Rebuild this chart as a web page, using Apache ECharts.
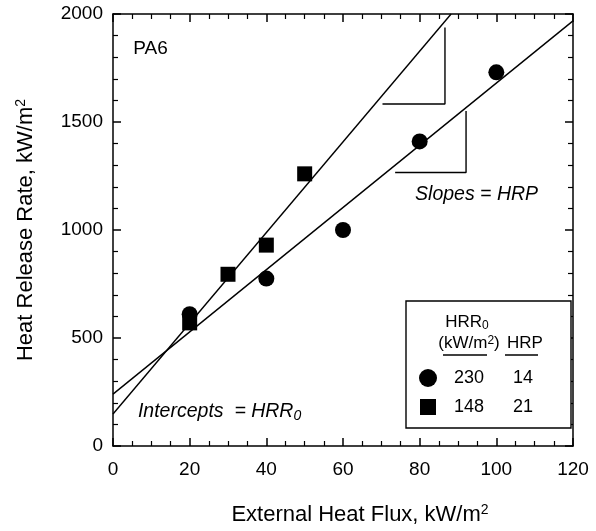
<!DOCTYPE html>
<html><head><meta charset="utf-8">
<script src="https://cdn.jsdelivr.net/npm/echarts@6/dist/echarts.min.js"></script>
<style>html,body{margin:0;padding:0;background:#fff}#c{width:596px;height:531px}</style>
</head><body><div id="c"></div>
<script>
// Data
const circleX = [20, 40, 60, 80, 100];
const circleY = [610, 775, 1000, 1410, 1730];
const squareX = [20, 30, 40, 50];
const squareY = [570, 795, 930, 1260];
// fit lines
const circleFitX = [0, 120];
const circleFitY = [240, 1968];
const squareFitX = [0, 88.2];
const squareFitY = [148, 2000];
// slope triangles
const tri1X = [70.3, 86.6, 86.6];
const tri1Y = [1583, 1583, 1938];
const tri2X = [73.6, 92.1, 92.1];
const tri2Y = [1266, 1266, 1551];
// legend table
const legendHRR0 = ['230', '148'];
const legendHRP = ['14', '21'];
const xTicks = [0, 20, 40, 60, 80, 100, 120];
const yTicks = [0, 500, 1000, 1500, 2000];

const FONT = 'Liberation Sans, Arial, sans-serif';
const zip = (a, b) => a.map((v, i) => [v, b[i]]);

const chart = echarts.init(document.getElementById('c'));
const axisLine = {onZero: false, lineStyle: {color: '#000', width: 1.5}};
const axisTick = {inside: true, length: 8, lineStyle: {color: '#000', width: 1.5}};
const minorStyle = {color: '#000', width: 1.2};
const supRich = {sup: {fontFamily: FONT, fontSize: 14, color: '#000', verticalAlign: 'top', padding: [0,0,10,0]}};
const lineStyle = {color: '#000', width: 1.4};
chart.setOption({
  animation: false,
  grid: {left: 113, right: 23, top: 14, bottom: 84},
  xAxis: [
    {type: 'value', min: 0, max: 120, interval: 20, position: 'bottom',
      axisLine: axisLine, axisTick: axisTick, splitLine: {show: false},
      minorTick: {show: true, splitNumber: 4, length: 5, lineStyle: minorStyle},
      axisLabel: {fontFamily: FONT, fontSize: 19, color: '#000', margin: 14, formatter: v => String(v)},
      name: 'External Heat Flux, kW/m{sup|2}', nameLocation: 'middle', nameGap: 57,
      nameTextStyle: {fontFamily: FONT, fontSize: 22, color: '#000', padding: [0,0,0,34], rich: supRich}},
    {type: 'value', min: 0, max: 120, interval: 20, position: 'top',
      axisLine: axisLine, axisTick: axisTick, splitLine: {show: false},
      minorTick: {show: true, splitNumber: 4, length: 5, lineStyle: minorStyle},
      axisLabel: {show: false}}
  ],
  yAxis: [
    {type: 'value', min: 0, max: 2000, interval: 500, position: 'left',
      axisLine: axisLine, axisTick: axisTick, splitLine: {show: false},
      minorTick: {show: true, splitNumber: 5, length: 5, lineStyle: minorStyle},
      axisLabel: {fontFamily: FONT, fontSize: 19, color: '#000', margin: 10, formatter: v => String(v)},
      name: 'Heat Release Rate, kW/m{sup|2}', nameLocation: 'middle', nameGap: 75,
      nameTextStyle: {fontFamily: FONT, fontSize: 22, color: '#000', rich: supRich}},
    {type: 'value', min: 0, max: 2000, interval: 500, position: 'right',
      axisLine: axisLine, axisTick: axisTick, splitLine: {show: false},
      minorTick: {show: true, splitNumber: 5, length: 5, lineStyle: minorStyle},
      axisLabel: {show: false}}
  ],
  series: [
    {type: 'line', data: zip(circleFitX, circleFitY), symbol: 'none', lineStyle: lineStyle, silent: true},
    {type: 'line', data: zip(squareFitX, squareFitY), symbol: 'none', lineStyle: lineStyle, silent: true},
    {type: 'line', data: zip(tri1X, tri1Y), symbol: 'none', lineStyle: lineStyle, silent: true},
    {type: 'line', data: zip(tri2X, tri2Y), symbol: 'none', lineStyle: lineStyle, silent: true},
    {type: 'scatter', data: zip(circleX, circleY), symbol: 'circle', symbolSize: 16, itemStyle: {color: '#000', opacity: 1}, z: 5},
    {type: 'scatter', data: zip(squareX, squareY), symbol: 'rect', symbolSize: 15, itemStyle: {color: '#000', opacity: 1}, z: 5}
  ]
});

// annotations positioned via the chart's own scale
function px(x, y) { return chart.convertToPixel({xAxisIndex: 0, yAxisIndex: 0}, [x, y]); }
const pPA6 = px(5.3, 1840);
const pSl = px(78.8, 1163);
const pIn = px(6.5, 161);
const italicRich = {i: {fontFamily: FONT, fontSize: 19.5, fontStyle: 'italic', fill: '#000'},
  sub: {fontFamily: FONT, fontSize: 14, fontStyle: 'italic', fill: '#000', verticalAlign: 'bottom', padding: [9,0,0,0]}};
const boxL = 406, boxT = 301, boxR = 571, boxB = 428;
const T = (x, y, text, fs) => ({type: 'text', x: x, y: y, z: 11, style: {text: text, textAlign: 'center', textVerticalAlign: 'middle', fontFamily: FONT, fontSize: fs || 18, fill: '#000'}});
chart.setOption({graphic: [
  {type: 'text', x: pPA6[0], y: pPA6[1], style: {text: 'PA6', fontFamily: FONT, fontSize: 19, fill: '#000', textVerticalAlign: 'middle'}},
  {type: 'text', x: pSl[0], y: pSl[1], style: {text: '{i|Slopes = HRP}', rich: italicRich, textVerticalAlign: 'middle'}},
  {type: 'text', x: pIn[0], y: pIn[1], style: {text: '{i|Intercepts  = HRR}{sub|0}', rich: italicRich, textVerticalAlign: 'middle'}},
  {type: 'rect', shape: {x: boxL, y: boxT, width: boxR - boxL, height: boxB - boxT},
    style: {fill: '#fff', stroke: '#000', lineWidth: 1.4}, z: 10},
  {type: 'text', x: 467, y: 322, z: 11, style: {text: 'HRR{s|0}', textAlign: 'center', textVerticalAlign: 'middle',
    fontFamily: FONT, fontSize: 17, fill: '#000', rich: {s: {fontFamily: FONT, fontSize: 12, fill: '#000', verticalAlign: 'bottom', padding: [8,0,0,0]}}}},
  {type: 'text', x: 469, y: 343, z: 11, style: {text: '(kW/m{s|2})', textAlign: 'center', textVerticalAlign: 'middle',
    fontFamily: FONT, fontSize: 17, fill: '#000', rich: {s: {fontFamily: FONT, fontSize: 12, fill: '#000', verticalAlign: 'top', padding: [0,0,3,0]}}}},
  T(525, 343, 'HRP', 17),
  {type: 'line', z: 11, shape: {x1: 443, y1: 355, x2: 487, y2: 355}, style: {stroke: '#000', lineWidth: 1.5}},
  {type: 'line', z: 11, shape: {x1: 505, y1: 355, x2: 538, y2: 355}, style: {stroke: '#000', lineWidth: 1.5}},
  {type: 'circle', z: 11, shape: {cx: 428, cy: 378, r: 9}, style: {fill: '#000'}},
  {type: 'rect', z: 11, shape: {x: 420, y: 399, width: 16, height: 16}, style: {fill: '#000'}},
  T(469, 378, legendHRR0[0]), T(523, 378, legendHRP[0]),
  T(469, 407, legendHRR0[1]), T(523, 407, legendHRP[1])
]});
</script></body></html>
